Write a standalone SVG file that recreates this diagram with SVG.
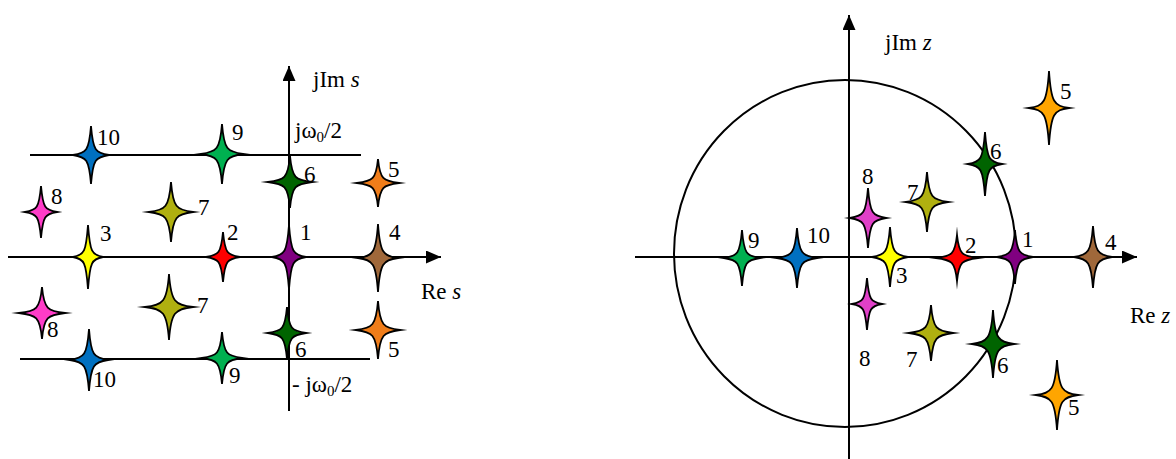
<svg xmlns="http://www.w3.org/2000/svg" width="1176" height="459" viewBox="0 0 1176 459">
<style>
.t{font-family:"Liberation Serif","Times New Roman",serif;font-size:23px;fill:#000}
.ax{stroke:#000;stroke-width:2;fill:none}
.st{stroke:#000;stroke-width:1.8;stroke-linejoin:miter;stroke-miterlimit:10}
.blue{fill:#0070C0}.green{fill:#00B050}.dg{fill:#006400}.or{fill:#F07D1A}.or2{fill:#FFA500}
.mg{fill:#FF3CC8}.mg2{fill:#E040C8}.ol{fill:#B0B010}.ye{fill:#FFFF00}.re{fill:#FF0000}.pu{fill:#800080}.br{fill:#A0683A}
</style>
<defs>
<marker id="arr" markerUnits="userSpaceOnUse" markerWidth="16" markerHeight="14" refX="15" refY="6.5" orient="auto">
<path d="M0,0 L15,6.5 L0,13 Z" fill="#000"/>
</marker>
</defs>
<rect width="1176" height="459" fill="#fff"/>
<g id="connectors">
<line class="ax" x1="289" y1="411" x2="289" y2="66" marker-end="url(#arr)"/>
<line class="ax" x1="8" y1="257" x2="441" y2="257" marker-end="url(#arr)"/>
<line class="ax" x1="30" y1="155" x2="361" y2="155"/>
<line class="ax" x1="20" y1="359" x2="370" y2="359"/>
<line class="ax" x1="849" y1="459" x2="849" y2="15" marker-end="url(#arr)"/>
<line class="ax" x1="635" y1="257" x2="1137" y2="257" marker-end="url(#arr)"/>
<ellipse class="ax" cx="845" cy="253.5" rx="171" ry="173.5"/>
</g>
<g id="labels">
<text class="t" x="313" y="87">jIm <tspan font-style="italic">s</tspan></text>
<text class="t" x="421" y="299">Re <tspan font-style="italic">s</tspan></text>
<text class="t" x="295" y="138">jω<tspan font-size="15" dy="4">0</tspan><tspan dy="-4">/2</tspan></text>
<text class="t" x="292" y="392">- jω<tspan font-size="15" dy="4">0</tspan><tspan dy="-4">/2</tspan></text>
<text class="t" x="885" y="50">jIm <tspan font-style="italic">z</tspan></text>
<text class="t" x="1130" y="323">Re <tspan font-style="italic">z</tspan></text>
</g>
<g id="sL10a"><path class="st blue" transform="translate(91,155)" d="M0,-29 C2,-4.4 4.5,-2 18,0 C4.5,2 2,4.4 0,29 C-2,4.4 -4.5,2 -18,0 C-4.5,-2 -2,-4.4 0,-29Z"/><text class="t" x="97" y="145">10</text></g>
<g id="sL9a"><path class="st green" transform="translate(222,154)" d="M0,-30 C2,-4.5 5.3,-2 21,0 C5.3,2 2,4.5 0,30 C-2,4.5 -5.3,2 -21,0 C-5.3,-2 -2,-4.5 0,-30Z"/><text class="t" x="232" y="140">9</text></g>
<g id="sL6a"><path class="st dg" transform="translate(290,182)" d="M0,-26 C2,-3.9 5.5,-2 22,0 C5.5,2 2,3.9 0,26 C-2,3.9 -5.5,2 -22,0 C-5.5,-2 -2,-3.9 0,-26Z"/><text class="t" x="304" y="182">6</text></g>
<g id="sL5a"><path class="st or" transform="translate(378,183)" d="M0,-24 C2,-3.6 5.3,-2 21,0 C5.3,2 2,3.6 0,24 C-2,3.6 -5.3,2 -21,0 C-5.3,-2 -2,-3.6 0,-24Z"/><text class="t" x="388" y="177">5</text></g>
<g id="sL8a"><path class="st mg" transform="translate(41,212)" d="M0,-26 C2,-3.9 4,-2 16,0 C4,2 2,3.9 0,26 C-2,3.9 -4,2 -16,0 C-4,-2 -2,-3.9 0,-26Z"/><text class="t" x="51" y="204">8</text></g>
<g id="sL7a"><path class="st ol" transform="translate(171,212)" d="M0,-30 C2,-4.5 5.5,-2 22,0 C5.5,2 2,4.5 0,30 C-2,4.5 -5.5,2 -22,0 C-5.5,-2 -2,-4.5 0,-30Z"/><text class="t" x="198" y="215">7</text></g>
<g id="sL3"><path class="st ye" transform="translate(88,257)" d="M0,-32 C2,-4.8 3.8,-2 15,0 C3.8,2 2,4.8 0,32 C-2,4.8 -3.8,2 -15,0 C-3.8,-2 -2,-4.8 0,-32Z"/><text class="t" x="100" y="241">3</text></g>
<g id="sL2"><path class="st re" transform="translate(223,257)" d="M0,-25 C2,-3.8 4.3,-2 17,0 C4.3,2 2,3.8 0,25 C-2,3.8 -4.3,2 -17,0 C-4.3,-2 -2,-3.8 0,-25Z"/><text class="t" x="227" y="240">2</text></g>
<g id="sL1"><path class="st pu" transform="translate(289,257)" d="M0,-32 C2,-4.8 4.3,-2 17,0 C4.3,2 2,4.8 0,32 C-2,4.8 -4.3,2 -17,0 C-4.3,-2 -2,-4.8 0,-32Z"/><text class="t" x="300" y="240">1</text></g>
<g id="sL4"><path class="st br" transform="translate(378,258)" d="M0,-34 C2,-5.1 5,-2 20,0 C5,2 2,5.1 0,34 C-2,5.1 -5,2 -20,0 C-5,-2 -2,-5.1 0,-34Z"/><text class="t" x="389" y="240">4</text></g>
<g id="sL8b"><path class="st mg" transform="translate(42,313)" d="M0,-26 C2,-3.9 5.8,-2 23,0 C5.8,2 2,3.9 0,26 C-2,3.9 -5.8,2 -23,0 C-5.8,-2 -2,-3.9 0,-26Z"/><text class="t" x="47" y="337">8</text></g>
<g id="sL7b"><path class="st ol" transform="translate(169,307)" d="M0,-33 C2,-5 6,-2 24,0 C6,2 2,5 0,33 C-2,5 -6,2 -24,0 C-6,-2 -2,-5 0,-33Z"/><text class="t" x="197" y="313">7</text></g>
<g id="sL10b"><path class="st blue" transform="translate(89,360)" d="M0,-31 C2,-4.7 4.8,-2 19,0 C4.8,2 2,4.7 0,31 C-2,4.7 -4.8,2 -19,0 C-4.8,-2 -2,-4.7 0,-31Z"/><text class="t" x="93" y="387">10</text></g>
<g id="sL9b"><path class="st green" transform="translate(222,358)" d="M0,-26 C2,-3.9 5,-2 20,0 C5,2 2,3.9 0,26 C-2,3.9 -5,2 -20,0 C-5,-2 -2,-3.9 0,-26Z"/><text class="t" x="229" y="383">9</text></g>
<g id="sL6b"><path class="st dg" transform="translate(287,333)" d="M0,-26 C2,-3.9 4.8,-2 19,0 C4.8,2 2,3.9 0,26 C-2,3.9 -4.8,2 -19,0 C-4.8,-2 -2,-3.9 0,-26Z"/><text class="t" x="295" y="357">6</text></g>
<g id="sL5b"><path class="st or" transform="translate(378,330)" d="M0,-29 C2,-4.4 5.5,-2 22,0 C5.5,2 2,4.4 0,29 C-2,4.4 -5.5,2 -22,0 C-5.5,-2 -2,-4.4 0,-29Z"/><text class="t" x="388" y="357">5</text></g>
<g id="sR5a"><path class="st or2" transform="translate(1049,108)" d="M0,-37 C2,-5.6 5,-2 20,0 C5,2 2,5.6 0,37 C-2,5.6 -5,2 -20,0 C-5,-2 -2,-5.6 0,-37Z"/><text class="t" x="1060" y="99">5</text></g>
<g id="sR6a"><path class="st dg" transform="translate(985,164)" d="M0,-32 C2,-4.8 4.3,-2 17,0 C4.3,2 2,4.8 0,32 C-2,4.8 -4.3,2 -17,0 C-4.3,-2 -2,-4.8 0,-32Z"/><text class="t" x="990" y="159">6</text></g>
<g id="sR7a"><path class="st ol" transform="translate(927,202)" d="M0,-30 C2,-4.5 5.3,-2 21,0 C5.3,2 2,4.5 0,30 C-2,4.5 -5.3,2 -21,0 C-5.3,-2 -2,-4.5 0,-30Z"/><text class="t" x="907" y="200">7</text></g>
<g id="sR8a"><path class="st mg2" transform="translate(868,218)" d="M0,-30 C2,-4.5 4.5,-2 18,0 C4.5,2 2,4.5 0,30 C-2,4.5 -4.5,2 -18,0 C-4.5,-2 -2,-4.5 0,-30Z"/><text class="t" x="862" y="184">8</text></g>
<g id="sR9"><path class="st green" transform="translate(742,258)" d="M0,-28 C2,-4.2 4.5,-2 18,0 C4.5,2 2,4.2 0,28 C-2,4.2 -4.5,2 -18,0 C-4.5,-2 -2,-4.2 0,-28Z"/><text class="t" x="748" y="248">9</text></g>
<g id="sR10"><path class="st blue" transform="translate(797,258)" d="M0,-30 C2,-4.5 5,-2 20,0 C5,2 2,4.5 0,30 C-2,4.5 -5,2 -20,0 C-5,-2 -2,-4.5 0,-30Z"/><text class="t" x="807" y="243">10</text></g>
<g id="sR3"><path class="st ye" transform="translate(890,257)" d="M0,-30 C2,-4.5 4.5,-2 18,0 C4.5,2 2,4.5 0,30 C-2,4.5 -4.5,2 -18,0 C-4.5,-2 -2,-4.5 0,-30Z"/><text class="t" x="896" y="283">3</text></g>
<g id="sR2"><path class="st re" transform="translate(957,258)" d="M0,-23 C2,-3.5 5.3,-2 21,0 C5.3,2 2,3.5 0,23 C-2,3.5 -5.3,2 -21,0 C-5.3,-2 -2,-3.5 0,-23Z"/><text class="t" x="965" y="253">2</text></g>
<g id="sR1"><path class="st pu" transform="translate(1015,257)" d="M0,-27 C2,-4.1 4.5,-2 18,0 C4.5,2 2,4.1 0,27 C-2,4.1 -4.5,2 -18,0 C-4.5,-2 -2,-4.1 0,-27Z"/><text class="t" x="1022" y="247">1</text></g>
<g id="sR4"><path class="st br" transform="translate(1093,257)" d="M0,-31 C2,-4.7 4.8,-2 19,0 C4.8,2 2,4.7 0,31 C-2,4.7 -4.8,2 -19,0 C-4.8,-2 -2,-4.7 0,-31Z"/><text class="t" x="1105" y="250">4</text></g>
<g id="sR8b"><path class="st mg2" transform="translate(867,304)" d="M0,-26 C2,-3.9 3.8,-2 15,0 C3.8,2 2,3.9 0,26 C-2,3.9 -3.8,2 -15,0 C-3.8,-2 -2,-3.9 0,-26Z"/><text class="t" x="859" y="366">8</text></g>
<g id="sR7b"><path class="st ol" transform="translate(931,333)" d="M0,-28 C2,-4.2 5.5,-2 22,0 C5.5,2 2,4.2 0,28 C-2,4.2 -5.5,2 -22,0 C-5.5,-2 -2,-4.2 0,-28Z"/><text class="t" x="906" y="367">7</text></g>
<g id="sR6b"><path class="st dg" transform="translate(993,344)" d="M0,-34 C2,-5.1 5.3,-2 21,0 C5.3,2 2,5.1 0,34 C-2,5.1 -5.3,2 -21,0 C-5.3,-2 -2,-5.1 0,-34Z"/><text class="t" x="997" y="373">6</text></g>
<g id="sR5b"><path class="st or2" transform="translate(1057,395)" d="M0,-35 C2,-5.3 5.3,-2 21,0 C5.3,2 2,5.3 0,35 C-2,5.3 -5.3,2 -21,0 C-5.3,-2 -2,-5.3 0,-35Z"/><text class="t" x="1068" y="415">5</text></g>
</svg>
